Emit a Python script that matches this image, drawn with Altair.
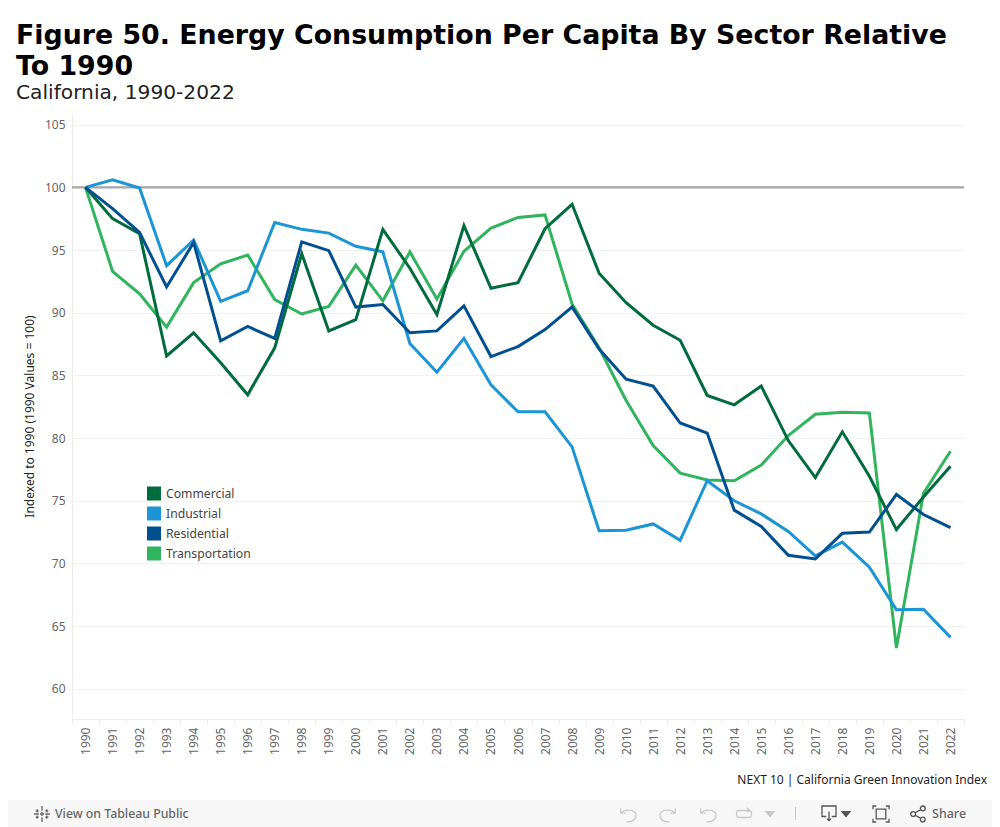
import altair as alt
import pandas as pd

years = [str(y) for y in range(1990, 2023)]
commercial = [100, 97.5, 96.3, 86.55, 88.4, 86.0, 83.45, 87.2, 94.7, 88.55, 89.45, 96.65, 93.55, 89.85, 96.95, 91.95, 92.4, 96.7, 98.65, 93.15, 90.8, 89.0, 87.8, 83.4, 82.65, 84.15, 79.8, 76.85, 80.5, 76.95, 72.7, 75.3, 77.75]
industrial = [100, 100.6, 99.95, 93.75, 95.8, 90.9, 91.75, 97.2, 96.65, 96.35, 95.3, 94.85, 87.55, 85.25, 87.95, 84.25, 82.1, 82.1, 79.3, 72.6, 72.65, 73.15, 71.85, 76.6, 75.0, 73.95, 72.55, 70.6, 71.7, 69.7, 66.3, 66.35, 64.1]
residential = [100, 98.3, 96.4, 92.05, 95.6, 87.75, 88.9, 87.95, 95.65, 94.95, 90.45, 90.65, 88.4, 88.55, 90.55, 86.5, 87.3, 88.65, 90.45, 87.1, 84.7, 84.15, 81.2, 80.4, 74.25, 72.95, 70.65, 70.35, 72.4, 72.5, 75.5, 73.9, 72.85]
transportation = [100, 93.3, 91.5, 88.85, 92.4, 93.9, 94.6, 91.05, 89.9, 90.5, 93.8, 90.95, 94.85, 91.1, 94.9, 96.75, 97.6, 97.8, 90.7, 87.2, 83.0, 79.4, 77.2, 76.65, 76.6, 77.85, 80.2, 81.9, 82.05, 82.0, 63.25, 75.6, 78.95]
y_ticks = [60, 65, 70, 75, 80, 85, 90, 95, 100, 105]
sectors = ["Commercial", "Industrial", "Residential", "Transportation"]
colors = ["#006b3c", "#1b95d6", "#004f8f", "#31b45e"]

series = {"Transportation": transportation, "Industrial": industrial,
          "Commercial": commercial, "Residential": residential}
df = pd.DataFrame([
    {"Year": y, "Sector": s, "Index": v}
    for s, vals in series.items() for y, v in zip(years, vals)
])

FONT = "Noto Sans"
OX, OY = 72, 113  # page position of the plot's corner


def px(v):
    return alt.value(v - OX)


def py(v):
    return alt.value(v - OY)


x_enc = alt.X("Year:O", title=None, sort=years,
              scale=alt.Scale(type="band", paddingInner=0, paddingOuter=0),
              axis=alt.Axis(labelAngle=270, labelFont=FONT, labelFontSize=12, labelColor="#666666",
                            labelPadding=3, labelOverlap=False, grid=False, domainColor="#ececec",
                            tickColor="#ececec", tickSize=5, tickBand="extent"))
y_enc = alt.Y("Index:Q", title="Indexed to 1990 (1990 Values = 100)",
              scale=alt.Scale(domain=[57.59, 105.93], nice=False, zero=False),
              axis=alt.Axis(values=y_ticks, labelFont=FONT, labelFontSize=12, labelColor="#666666",
                            labelPadding=7, tickSize=0, gridColor="#f2f2f2", domainColor="#ececec",
                            titleFont=FONT, titleFontSize=12, titleFontWeight="normal",
                            titleColor="#222222", titlePadding=8))

lines = alt.Chart(df).mark_line(strokeWidth=3, strokeJoin="miter", clip=False).encode(
    x=x_enc, y=y_enc,
    stroke=alt.Stroke("Sector:N", scale=alt.Scale(domain=sectors, range=colors), legend=None),
)

legend_keys = alt.Chart(df).mark_point(filled=True, size=0, shape="square", opacity=1).encode(
    x=x_enc, y=y_enc,
    fill=alt.Fill("Sector:N", title=None,
                  scale=alt.Scale(domain=sectors, range=colors),
                  legend=alt.Legend(orient="none", legendX=75, legendY=373.5, symbolType="square",
                                    symbolSize=196, symbolStrokeWidth=0, symbolOpacity=1,
                                    labelFont=FONT, labelFontSize=12.2, labelColor="#444444",
                                    rowPadding=6, labelOffset=5, padding=0)),
)

ref = alt.Chart(pd.DataFrame({"Index": [100]})).mark_rule(color="#a6a6a6", strokeWidth=2.2).encode(y="Index:Q")

footer = alt.Chart(pd.DataFrame({"t": ["NEXT 10 | California Green Innovation Index"]})).mark_text(
    font=FONT, fontSize=12, color="#222222", align="right", baseline="middle"
).encode(x=px(987), y=py(780), text="t:N")

bar = alt.Chart(pd.DataFrame({"a": [0]})).mark_rect(color="#f7f7f7").encode(
    x=px(8), x2=px(992), y=py(800), y2=py(827))

tableau_link = alt.Chart(pd.DataFrame({"t": ["View on Tableau Public"]})).mark_text(
    font=FONT, fontSize=12.3, color="#666666", align="left", baseline="middle", fontWeight=500
).encode(x=px(55), y=py(814), text="t:N")

share = alt.Chart(pd.DataFrame({"t": ["Share"]})).mark_text(
    font=FONT, fontSize=12.5, color="#666666", align="left", baseline="middle", fontWeight=500
).encode(x=px(932), y=py(814), text="t:N")


def icon(path, x, y, size, color, fill="transparent", sw=1.3):
    return alt.Chart(pd.DataFrame({"a": [0]})).mark_point(
        shape=path, size=size, stroke=color, fill=fill, strokeWidth=sw, opacity=1, filled=False
    ).encode(x=px(x), y=py(y))


LIGHT = "#c8c8c8"
DARK = "#555555"
UNDO = "M-0.9,-0.7 L-0.9,-0.1 L-0.3,-0.1 M-0.9,-0.1 C-0.4,-0.7 1,-0.6 1,0.2 C1,0.8 0.4,1 -0.2,1"
REDO = "M0.9,-0.7 L0.9,-0.1 L0.3,-0.1 M0.9,-0.1 C0.4,-0.7 -1,-0.6 -1,0.2 C-1,0.8 -0.4,1 0.2,1"
LOOP = "M-0.7,-0.5 L0.7,-0.5 C1.2,-0.5 1.2,0.5 0.7,0.5 L-0.7,0.5 C-1.2,0.5 -1.2,-0.5 -0.7,-0.5 M0.4,-0.9 L0.8,-0.5 L0.4,-0.2"
CARET = "M-1,-0.6 L1,-0.6 L0,0.6 Z"
DOWN = "M-0.4,0.5 L-1,0.5 L-1,-1 L1,-1 L1,0.5 L0.4,0.5 M0,-0.2 L0,1.1 M-0.3,0.8 L0,1.1 L0.3,0.8"
FULL = "M-1,-0.6 L-1,-1 L-0.6,-1 M0.6,-1 L1,-1 L1,-0.6 M1,0.6 L1,1 L0.6,1 M-0.6,1 L-1,1 L-1,0.6 M-0.6,-0.6 L0.6,-0.6 L0.6,0.6 L-0.6,0.6 Z"
SHARE = "M-0.9,0 A0.3,0.3 0 1 0 -0.3,0 A0.3,0.3 0 1 0 -0.9,0 M0.3,-0.7 A0.3,0.3 0 1 0 0.9,-0.7 A0.3,0.3 0 1 0 0.3,-0.7 M0.3,0.7 A0.3,0.3 0 1 0 0.9,0.7 A0.3,0.3 0 1 0 0.3,0.7 M-0.35,-0.15 L0.35,-0.55 M-0.35,0.15 L0.35,0.55"
SNOW = "M0,-1 L0,-0.4 M0,0.4 L0,1 M-1,0 L-0.4,0 M0.4,0 L1,0 M-0.6,-0.6 L-0.6,-0.2 M-0.8,-0.4 L-0.4,-0.4 M0.6,-0.6 L0.6,-0.2 M0.8,-0.4 L0.4,-0.4 M-0.6,0.6 L-0.6,0.2 M-0.8,0.4 L-0.4,0.4 M0.6,0.6 L0.6,0.2 M0.8,0.4 L0.4,0.4 M-0.25,0 L0.25,0 M0,-0.25 L0,0.25"

icons = [
    icon(SNOW, 42, 814, 256, "#666666"),
    icon(UNDO, 628, 814, 256, LIGHT),
    icon(REDO, 668, 814, 256, LIGHT),
    icon(UNDO, 708, 814, 256, LIGHT),
    icon(LOOP, 744, 814, 196, LIGHT),
    icon(CARET, 770, 814, 64, LIGHT, fill=LIGHT),
    icon(DOWN, 829, 813, 196, DARK),
    icon(CARET, 846, 814, 64, DARK, fill=DARK),
    icon(FULL, 881, 814, 256, DARK),
    icon(SHARE, 918, 814, 256, DARK),
]
sep = alt.Chart(pd.DataFrame({"a": [0]})).mark_rule(color="#c8c8c8").encode(x=px(795.5), y=py(807), y2=py(820))

chart = alt.layer(bar, ref, lines, legend_keys, footer, tableau_link, share, sep, *icons).resolve_scale(
    fill="independent", stroke="independent"
).properties(
    width=892, height=606,
    autosize=alt.AutoSizeParams(type="none"),
    padding={"left": 64, "top": 105, "right": 28, "bottom": 108},
    title=alt.TitleParams(
        text=["Figure 50. Energy Consumption Per Capita By Sector Relative", "To 1990"],
        subtitle="California, 1990-2022",
        anchor="start", frame="group", dx=-56, offset=10,
        font="DejaVu Sans", fontSize=26.8, fontWeight="bold", color="#000000", lineHeight=31.5,
        subtitleFont="DejaVu Sans", subtitleFontSize=20.2, subtitleColor="#222222", subtitlePadding=2,
    ),
).configure_view(stroke=None).configure_axis(labelLimit=0)

chart.save("out.html", embed_options={"renderer": "svg", "actions": False})
